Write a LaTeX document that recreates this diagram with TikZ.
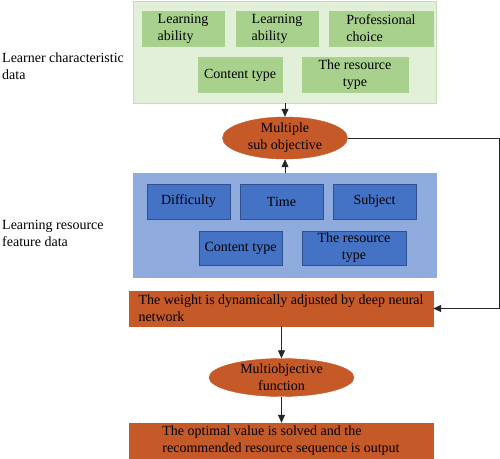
\documentclass[tikz,border=0pt]{standalone}
\usepackage{fontspec}
\setmainfont{Liberation Serif}
\usepackage{xcolor}
\usepackage{tikz}
\usetikzlibrary{positioning, shapes, arrows, calc, arrows.meta}

\definecolor{greenbg}{HTML}{E2F0D9}
\definecolor{greenline}{HTML}{C5DFB4}
\definecolor{greenbox}{HTML}{A9D18E}
\definecolor{bluebg}{HTML}{8FAADC}
\definecolor{bluebox}{HTML}{4472C4}
\definecolor{blueline}{HTML}{2F528F}
\definecolor{orangebox}{HTML}{C55A28}

\begin{document}
\begin{tikzpicture}[x=1pt, y=-1pt,
    font=\fontsize{14}{17}\selectfont,
    greenitem/.style={draw=greenbox, fill=greenbox, minimum height=35pt, align=center, inner sep=1pt},
    blueitem/.style={draw=blueline, fill=bluebox, minimum height=35pt, align=center, inner sep=1pt},
    orangebar/.style={draw=orangebox, fill=orangebox, minimum width=304pt, minimum height=35pt, align=left, inner sep=1pt},
    objective/.style={ellipse, draw=orangebox, fill=orangebox, align=center, inner sep=0pt},
    flow/.style={-{Triangle[width=7pt,length=8pt]}, thick, black!85}]
    \useasboundingbox (0,0) rectangle (500,458);

    % Learner characteristic data
    \node[draw=greenline, fill=greenbg, minimum width=303pt, minimum height=102pt] (learner) at (284.5,52) {};
    \node[greenitem, align=left, minimum width=82pt] (ability1) at (183,28.5) {Learning\\ability};
    \node[greenitem, align=left, minimum width=82pt] (ability2) at (277,28.5) {Learning\\ability};
    \node[greenitem, align=left, minimum width=104pt] (choice) at (381,28.5) {Professional\\choice};
    \node[greenitem, minimum width=84pt] (content1) at (240,75) {Content type};
    \node[greenitem, minimum width=106pt] (restype1) at (355,75) {The resource\\type};
    \node[anchor=west, align=left, inner sep=2pt] (learnerlabel) at (0,66) {Learner characteristic\\data};

    % Multiple sub objective
    \node[objective, minimum width=125pt, minimum height=38pt] (subobj) at (285,138) {Multiple\\sub objective};

    % Learning resource feature data
    \node[draw=bluebg, fill=bluebg, minimum width=303pt, minimum height=104pt] (resource) at (284.5,225) {};
    \node[blueitem, minimum width=83pt] (difficulty) at (188.5,201.5) {Difficulty};
    \node[blueitem, minimum width=83pt] (time) at (281.5,201.5) {Time};
    \node[blueitem, minimum width=83pt] (subject) at (374.5,201.5) {Subject};
    \node[blueitem, minimum width=83pt, minimum height=34pt] (content2) at (240.5,248) {Content type};
    \node[blueitem, minimum width=104pt, minimum height=34pt] (restype2) at (354,248) {The resource\\type};
    \node[anchor=west, align=left, inner sep=2pt] (resourcelabel) at (0,233) {Learning resource\\feature data};

    % Weighting and output
    \node[orangebar] (weight) at (281,308.5) {The weight is dynamically adjusted by deep neural\\network};
    \node[objective, minimum width=145pt, minimum height=35pt] (multiobj) at (281.5,377.5) {Multiobjective\\function};
    \node[orangebar] (output) at (281,440.5) {The optimal value is solved and the\\recommended resource sequence is output};

    \coordinate (feedback) at (499,138);

    \draw[flow] (learner.south -| subobj) -- (subobj.north);
    \draw[flow] (resource.north -| subobj) -- (subobj.south);
    \draw[flow] (subobj.east) -- (feedback) |- (weight.east);
    \draw[flow] (weight.south -| multiobj) -- (multiobj.north);
    \draw[flow] (multiobj.south) -- (output.north -| multiobj);
\end{tikzpicture}
\end{document}
